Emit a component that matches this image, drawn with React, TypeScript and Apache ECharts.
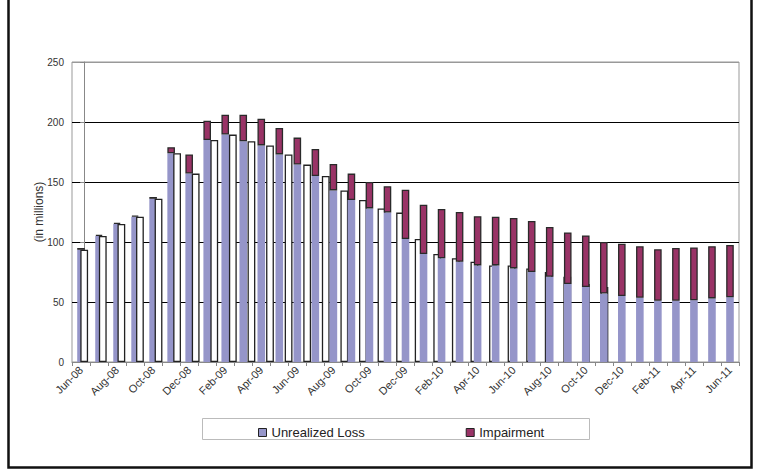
import React, { useEffect, useRef } from "react";
import * as echarts from "echarts";

const categories = [
  "Jun-08","Jul-08","Aug-08","Sep-08","Oct-08","Nov-08","Dec-08",
  "Jan-09","Feb-09","Mar-09","Apr-09","May-09","Jun-09","Jul-09","Aug-09","Sep-09","Oct-09","Nov-09","Dec-09",
  "Jan-10","Feb-10","Mar-10","Apr-10","May-10","Jun-10","Jul-10","Aug-10","Sep-10","Oct-10","Nov-10","Dec-10",
  "Jan-11","Feb-11","Mar-11","Apr-11","May-11","Jun-11",
];

const unrealizedLoss = [
  93.5, 105, 115, 121, 136, 174, 157,
  185, 189.5, 184, 180.5, 173, 164.5, 155, 143, 135, 128, 124.5, 102.5,
  90, 86.5, 83.5, 80.5, 80.5, 78, 75, 71, 65, 62.5, 57, 55,
  53.5, 51, 51, 51.5, 53, 54,
];

const impairment = [
  1.5, 1, 1, 1, 1.5, 5, 16,
  16, 16.5, 22, 22.3, 22, 22.5, 22.5, 22, 22, 22, 22, 41,
  41, 41, 41.5, 41, 40.5, 42, 42.5, 41.5, 43, 43, 43, 43.5,
  43, 43, 44, 44, 43.5, 43.5,
];

// outlined (white) series, shown up to Oct-10
const outlineValues = [
  93.5, 105, 115, 121, 136, 174, 157,
  185, 189.5, 184, 180.5, 173, 164.5, 155, 143, 135, 128, 124.5, 102.5,
  90, 86.5, 83.5, 80.5, 80.5, 78, 75, 71, 65, 62.5,
];
const outlineFrontCount = 13;

const yTicks = [0, 50, 100, 150, 200, 250];

const FONT = "Liberation Sans, Arial, sans-serif";
const LAVENDER = "#9595C9";
const MAROON = "#993366";

export default function App() {
  const ref = useRef<HTMLDivElement>(null);

  useEffect(() => {
    if (!ref.current) return;
    const chart = echarts.init(ref.current, null, { renderer: "svg" });

    const front = outlineValues
      .map((v, i) => [i, v])
      .filter((d) => d[0] < outlineFrontCount);
    const back = outlineValues
      .map((v, i) => [i, v])
      .filter((d) => d[0] >= outlineFrontCount);

    const option: any = {
      animation: false,
      grid: {
        left: 72,
        right: 20,
        top: 62,
        bottom: 112,
        show: true,
        borderColor: "#999",
        borderWidth: 1,
        backgroundColor: "transparent",
      },
      legend: {
        data: [
          { name: "Unrealized Loss", itemStyle: { color: LAVENDER, borderColor: "#222", borderWidth: 1 } },
          { name: "Impairment", itemStyle: { color: MAROON, borderColor: "#222", borderWidth: 1 } },
        ],
        icon: "rect",
        itemWidth: 8,
        itemHeight: 8,
        itemGap: 101,
        left: 253,
        top: 421,
        textStyle: { fontSize: 13, color: "#222", fontFamily: FONT },
      },
      xAxis: [
        {
          type: "category",
          data: categories,
          boundaryGap: true,
          axisLine: { lineStyle: { color: "#888" } },
          axisTick: { show: true, interval: 0, length: 4, lineStyle: { color: "#888" } },
          axisLabel: {
            interval: 1,
            rotate: 45,
            fontSize: 11,
            color: "#333",
            fontFamily: FONT,
            margin: 6,
          },
          splitLine: { show: false },
        },
        {
          type: "value",
          min: -0.6566,
          max: 35.242,
          show: false,
          splitLine: { show: false },
        },
      ],
      yAxis: {
        type: "value",
        min: yTicks[0],
        max: yTicks[yTicks.length - 1],
        interval: 50,
        name: "(in millions)",
        nameLocation: "middle",
        nameGap: 27,
        nameRotate: 90,
        nameMoveOverlap: false,
        nameTextStyle: { fontSize: 12, color: "#333", fontFamily: FONT },
        axisLine: { show: true, lineStyle: { color: "#888" } },
        axisTick: { show: true, length: 4, lineStyle: { color: "#888" } },
        axisLabel: { fontSize: 10, color: "#333", fontFamily: FONT, margin: 8 },
        splitLine: {
          show: true,
          lineStyle: { color: ["#888", "#000", "#000", "#000", "#000", "#999"], width: 1 },
        },
      },
      series: [
        {
          name: "outlineBack",
          type: "bar",
          xAxisIndex: 1,
          data: back,
          barWidth: 7.8,
          z: 1,
          itemStyle: { color: "#fff", borderColor: "#222", borderWidth: 1.3 },
          silent: true,
        },
        {
          name: "outlineFront",
          type: "bar",
          xAxisIndex: 1,
          data: front,
          barWidth: 7.8,
          barGap: "-100%",
          z: 3,
          itemStyle: { color: "#fff", borderColor: "#222", borderWidth: 1.3 },
          silent: true,
        },
        {
          name: "Unrealized Loss",
          type: "bar",
          stack: "total",
          data: unrealizedLoss,
          barWidth: 7.6,
          z: 2,
          itemStyle: { color: LAVENDER },
        },
        {
          name: "Impairment",
          type: "bar",
          stack: "total",
          data: impairment,
          barWidth: 7.6,
          z: 2,
          itemStyle: { color: MAROON, borderColor: "#2a2a2a", borderWidth: 1.3 },
        },
      ],
      graphic: [
        {
          type: "polyline",
          shape: { points: [[8.5, 0], [8.5, 467.5], [751.5, 467.5], [751.5, 0]] },
          style: { fill: "none", stroke: "#111", lineWidth: 2.5 },
          silent: true,
        },
        {
          type: "rect",
          shape: { x: 202.5, y: 418.5, width: 387, height: 21 },
          style: { fill: "none", stroke: "#bbb", lineWidth: 1 },
          silent: true,
        },
      ],
    };

    chart.setOption(option);
    return () => chart.dispose();
  }, []);

  return (
    <div
      ref={ref}
      style={{ position: "fixed", left: 0, top: 0, width: 759, height: 474, background: "#fff" }}
    />
  );
}
